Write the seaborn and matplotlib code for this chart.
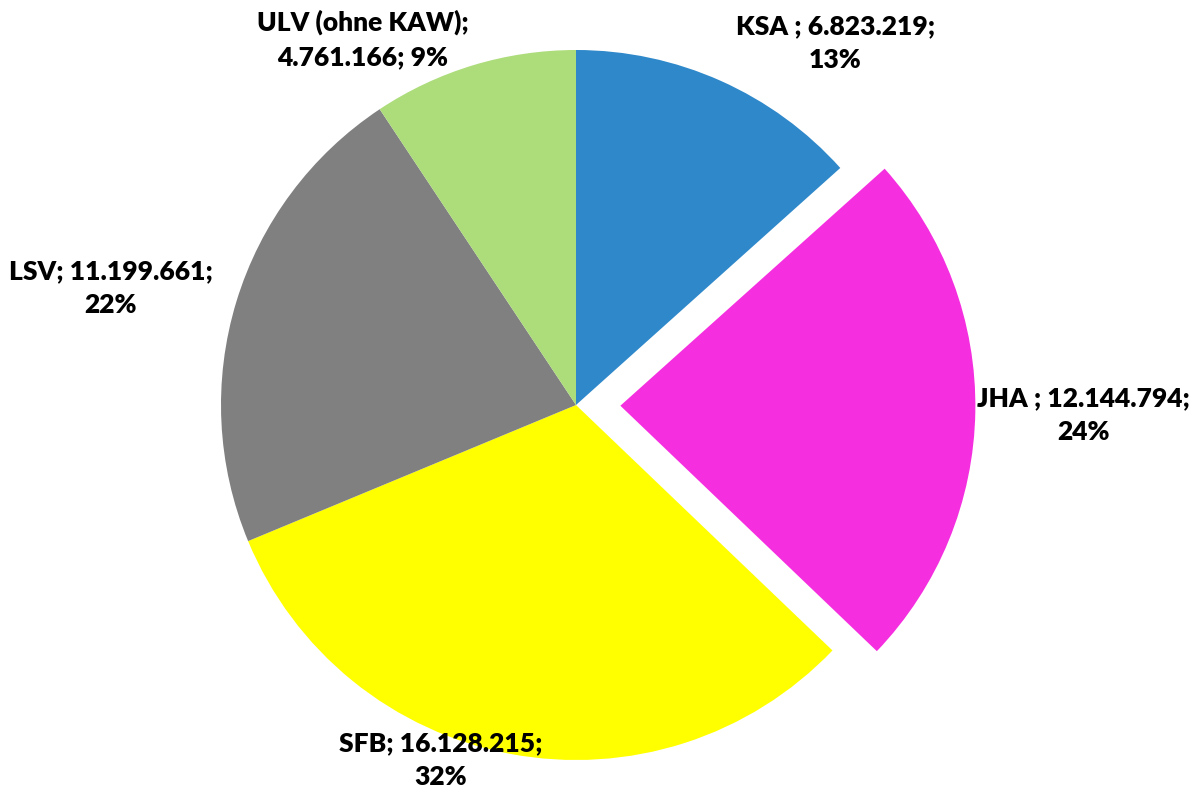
"""Kreisdiagramm der Anteile nach Bereichen."""

import matplotlib

matplotlib.use("Agg")
import matplotlib.pyplot as plt
import seaborn as sns

# Daten
categories = ["KSA ", "JHA ", "SFB", "LSV", "ULV (ohne KAW)"]
values = [6823219, 12144794, 16128215, 11199661, 4761166]
percent_labels = ["13%", "24%", "32%", "22%", "9%"]
colors = ["#2E88CA", "#F52EDF", "#FFFF00", "#808080", "#ADDC7B"]
explode = [0, 0.125, 0, 0, 0]


def fmt_number(value: int) -> str:
    return f"{value:,}".replace(",", ".")


sns.set_theme(style="white")
plt.rcParams["font.family"] = ["Lato", "DejaVu Sans"]

fig = plt.figure(figsize=(11.97, 7.92), dpi=100)
axis = fig.add_axes([0, 0, 1, 1])

axis.pie(
    values,
    colors=colors,
    explode=explode,
    startangle=90,
    counterclock=False,
    radius=1.0,
    wedgeprops={"linewidth": 0},
)

# Beschriftungspositionen (Text, keine Datenpunkte)
label_positions = [(0.73, 1.02), (1.43, -0.028), (-0.38, -1.0), (-1.31, 0.33), (-0.60, 1.03)]
label_texts = [
    f"{categories[0]}; {fmt_number(values[0])};\n{percent_labels[0]}",
    f"{categories[1]}; {fmt_number(values[1])};\n{percent_labels[1]}",
    f"{categories[2]}; {fmt_number(values[2])};\n{percent_labels[2]}",
    f"{categories[3]}; {fmt_number(values[3])};\n{percent_labels[3]}",
    f"{categories[4]};\n{fmt_number(values[4])}; {percent_labels[4]}",
]
for (x, y), text in zip(label_positions, label_texts):
    axis.text(
        x, y, text,
        ha="center", va="center",
        fontsize=19, fontweight="heavy", color="black",
        linespacing=1.5,
    )

scale = 355
axis.set_xlim(-576 / scale, (1197 - 576) / scale)
axis.set_ylim(-(792 - 405) / scale, 405 / scale)
axis.set_aspect("equal")
axis.axis("off")

fig.savefig("out.png", dpi=100)
plt.close(fig)
